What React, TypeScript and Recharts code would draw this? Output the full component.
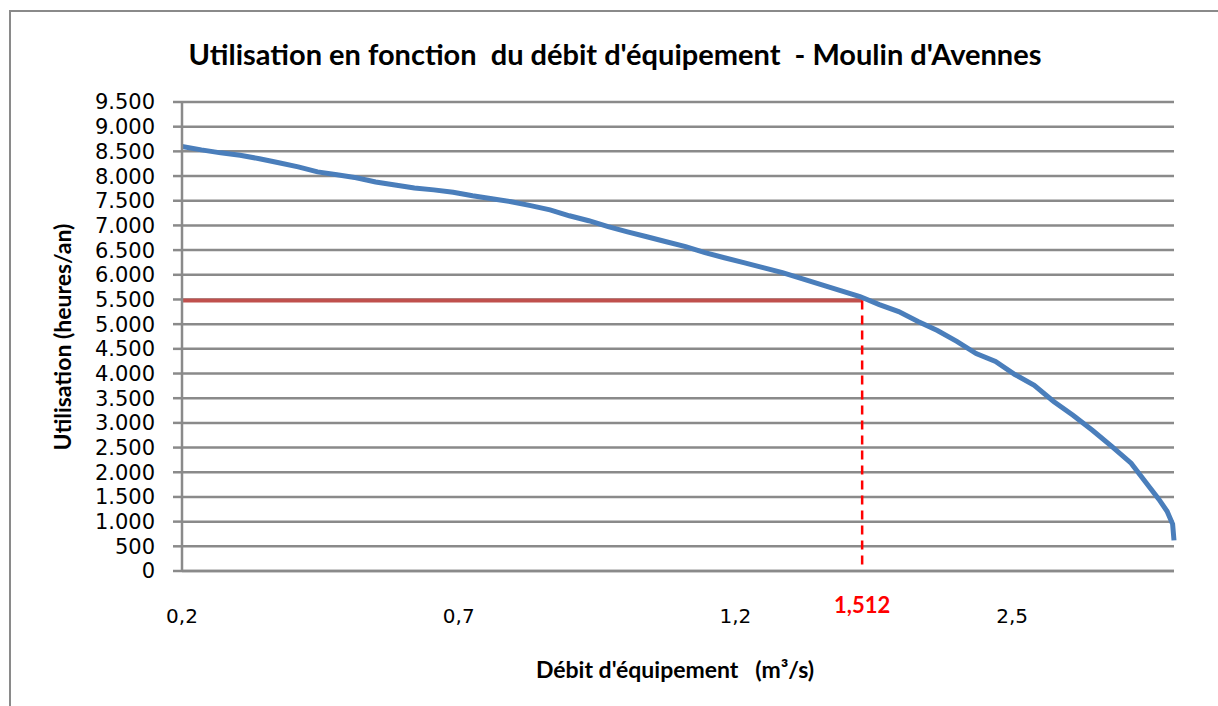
import React from 'react';
import {
  LineChart,
  Line,
  XAxis,
  YAxis,
  CartesianGrid,
  ReferenceLine
} from 'recharts';

// x positions follow the category spacing of the original sheet (0,2 -> 0, 0,7 -> 1, ...)
const positions = [
  0, 0.07, 0.14, 0.21, 0.28, 0.35, 0.42, 0.49, 0.56, 0.63, 0.7, 0.77, 0.84, 0.91, 0.98,
  1.05, 1.12, 1.19, 1.26, 1.33, 1.4, 1.47, 1.54, 1.61, 1.68, 1.75, 1.82, 1.89, 1.96,
  2.03, 2.1, 2.17, 2.24, 2.31, 2.38, 2.45, 2.52, 2.59, 2.66, 2.73, 2.8, 2.87, 2.94,
  3.01, 3.08, 3.15, 3.22, 3.29, 3.36, 3.43, 3.48, 3.53, 3.56, 3.58, 3.585
];
const heures = [
  8600, 8530, 8470, 8420, 8350, 8270, 8185, 8085, 8025, 7965, 7880, 7820, 7760, 7720, 7670,
  7600, 7540, 7480, 7400, 7315, 7195, 7095, 6975, 6870, 6770, 6670, 6570, 6450, 6345,
  6245, 6145, 6045, 5920, 5800, 5680, 5560, 5395, 5255, 5055, 4870, 4650, 4405, 4245,
  3980, 3760, 3435, 3155, 2850, 2525, 2185, 1820, 1455, 1210, 950, 620
];

const xTickPositions = [0, 1, 2, 2.458, 3];
const xTickLabels = ['0,2', '0,7', '1,2', '1,512', '2,5'];
const yTicks = [0, 500, 1000, 1500, 2000, 2500, 3000, 3500, 4000, 4500, 5000, 5500, 6000, 6500, 7000, 7500, 8000, 8500, 9000, 9500];

const markerPos = 2.458;
const markerHeures = 5480;

const data = positions.map((pos, i) => ({ pos, heures: heures[i] }));

const GRID = '#8a8a8a';
const TITLE_FONT = 'Lato, "Open Sans", sans-serif';
const TICK_FONT = '"DejaVu Sans", sans-serif';

const formatThousands = (v: number) =>
  v >= 1000 ? `${Math.floor(v / 1000)}.${String(v % 1000).padStart(3, '0')}` : String(v);

const XTick = (props: any) => {
  const { x, y, payload } = props;
  const i = xTickPositions.indexOf(payload.value);
  const highlight = payload.value === markerPos;
  if (highlight) {
    return (
      <text x={x} y={y + 42} textAnchor="middle" fill="#ff0000" fontFamily={TITLE_FONT} fontWeight={700} fontSize={22}>
        {xTickLabels[i]}
      </text>
    );
  }
  return (
    <text x={x} y={y + 52} textAnchor="middle" fill="#000" fontFamily={TICK_FONT} fontSize={20}>
      {xTickLabels[i]}
    </text>
  );
};

export default function App() {
  return (
    <div style={{ position: 'absolute', left: 0, top: 0, width: 1218, height: 706, overflow: 'hidden', background: '#fff' }}>
      <div style={{ position: 'absolute', left: 9, top: 10, width: 1400, height: 900, borderLeft: `2px solid ${GRID}`, borderTop: `2px solid ${GRID}` }} />
      <div style={{ position: 'absolute', left: 615, top: 53, transform: 'translate(-50%, -50%)', fontFamily: TITLE_FONT, fontWeight: 700, fontSize: 29, color: '#000', whiteSpace: 'pre' }}>
        {"Utilisation en fonction  du débit d'équipement  - Moulin d'Avennes"}
      </div>
      <div style={{ position: 'absolute', left: 62, top: 337, transform: 'translate(-50%, -50%) rotate(-90deg)', fontFamily: TITLE_FONT, fontWeight: 700, fontSize: 23, color: '#000', whiteSpace: 'pre' }}>
        Utilisation (heures/an)
      </div>
      <div style={{ position: 'absolute', left: 675, top: 669, transform: 'translate(-50%, -50%)', fontFamily: TITLE_FONT, fontWeight: 700, fontSize: 23, color: '#000', whiteSpace: 'pre' }}>
        {"Débit d'équipement   (m³/s)"}
      </div>
      <div style={{ position: 'absolute', left: 0, top: 0 }}>
        <LineChart width={1218} height={706} data={data} margin={{ top: 102, right: 44, bottom: 105, left: 0 }}>
          <CartesianGrid vertical={false} stroke={GRID} strokeWidth={2.5} />
          <XAxis
            type="number"
            dataKey="pos"
            domain={[0, 3.585]}
            ticks={xTickPositions}
            interval={0}
            tickLine={false}
            axisLine={{ stroke: GRID, strokeWidth: 2.5 }}
            tickSize={0}
            tickMargin={0}
            height={30}
            tick={XTick}
          />
          <YAxis
            type="number"
            domain={[0, 9500]}
            ticks={yTicks}
            interval={0}
            width={182}
            tickSize={9}
            tickMargin={18}
            tickLine={{ stroke: GRID, strokeWidth: 2.5 }}
            axisLine={{ stroke: GRID, strokeWidth: 2.5 }}
            tickFormatter={formatThousands}
            tick={{ fill: '#000', fontSize: 21, fontFamily: TICK_FONT }}
          />
          <ReferenceLine
            segment={[{ x: 0, y: markerHeures }, { x: markerPos, y: markerHeures }]}
            stroke="#c0504d"
            strokeWidth={4}
          />
          <ReferenceLine
            segment={[{ x: markerPos, y: markerHeures }, { x: markerPos, y: 0 }]}
            stroke="#ff0000"
            strokeWidth={2.5}
            strokeDasharray="9 6"
          />
          <Line
            type="linear"
            dataKey="heures"
            stroke="#4a7ebb"
            strokeWidth={5}
            dot={false}
            isAnimationActive={false}
          />
        </LineChart>
      </div>
    </div>
  );
}
